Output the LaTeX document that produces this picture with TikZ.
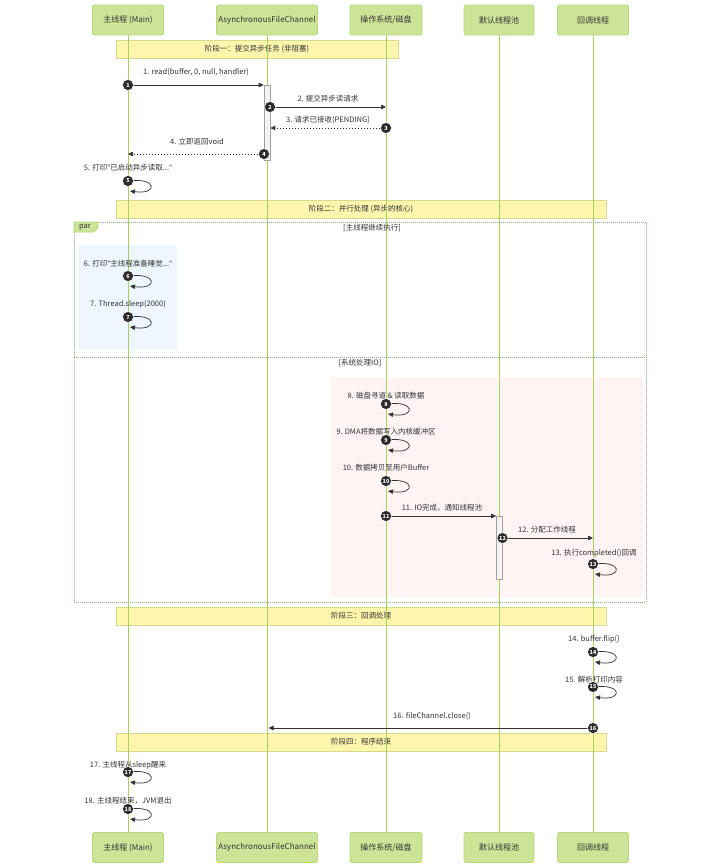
\documentclass[tikz,border=0pt]{standalone}
\usepackage{fontspec}
\setmainfont{Noto Sans CJK SC}
\newfontfamily\qfont{Noto Sans}
\newcommand\qq{{\qfont"}}
\usetikzlibrary{arrows.meta,calc}
\definecolor{actorfill}{HTML}{CDE498}
\definecolor{actorline}{HTML}{B9D877}
\definecolor{lifeclr}{HTML}{A5D25F}
\definecolor{notefill}{HTML}{FFF5AD}
\definecolor{noteline}{HTML}{D2DC8E}
\definecolor{txt}{HTML}{333333}
\definecolor{dotclr}{HTML}{2B2B2B}
\definecolor{parline}{HTML}{8EAA80}
\definecolor{bluebg}{HTML}{EEF6FF}
\definecolor{pinkbg}{HTML}{FFF4F4}
\definecolor{actfill}{HTML}{F4F4F4}
\definecolor{actline}{HTML}{A0A0A0}
\begin{document}
\begin{tikzpicture}[x=1pt,y=-1pt,
  actorbox/.style={draw=actorline,fill=actorfill,line width=0.8pt,rounded corners=2pt,
    minimum height=30pt,inner sep=0pt,text=txt,font=\fontsize{8}{10}\selectfont},
  lifeline/.style={draw=lifeclr,line width=1pt},
  phasenote/.style={draw=noteline,fill=notefill,line width=0.8pt,inner sep=0pt,
    minimum height=18pt,text=txt,font=\fontsize{7.5}{9}\selectfont},
  msglabel/.style={text=txt,inner sep=0pt,font=\fontsize{7.5}{9}\selectfont},
  msgline/.style={draw=txt,line width=0.7pt,-{Triangle[length=5pt,width=4.5pt]}},
  retline/.style={msgline,dash pattern=on 1.5pt off 1.5pt},
  numdot/.style={circle,fill=dotclr,draw=white,line width=0.5pt,minimum size=11pt,inner sep=0pt,
    text=white,font=\fontsize{5.5}{5.5}\selectfont\bfseries},
  actbar/.style={draw=actline,fill=actfill,line width=0.6pt,minimum width=6pt,inner sep=0pt},
  framelabel/.style={text=txt,inner sep=0pt,font=\fontsize{7.5}{9}\selectfont}]
\useasboundingbox[fill=white] (0,0) rectangle (720,868);

% background regions
\fill[bluebg] (79,245) rectangle (177,350);
\fill[pinkbg] (331,377) rectangle (642,597);

% phase notes
\node[phasenote,minimum width=282pt] (ph1) at (257,49) {阶段一：提交异步任务 (非阻塞)};
\node[phasenote,minimum width=490pt] (ph2) at (361,209) {阶段二：并行处理 (异步的核心)};
\node[phasenote,minimum width=490pt] (ph3) at (361,616) {阶段三：回调处理};
\node[phasenote,minimum width=490pt] (ph4) at (361,742) {阶段四：程序结束};

% participants
\node[actorbox,minimum width=71pt] (p1t) at (128,20) {主线程 (Main)};
\node[actorbox,minimum width=101pt] (p2t) at (267,20) {AsynchronousFileChannel};
\node[actorbox,minimum width=72pt] (p3t) at (386,20) {操作系统/磁盘};
\node[actorbox,minimum width=70pt] (p4t) at (499,20) {默认线程池};
\node[actorbox,minimum width=71pt] (p5t) at (593,20) {回调线程};
\node[actorbox,minimum width=71pt] (p1b) at (128,847.5) {主线程 (Main)};
\node[actorbox,minimum width=101pt] (p2b) at (267,847.5) {AsynchronousFileChannel};
\node[actorbox,minimum width=72pt] (p3b) at (386,847.5) {操作系统/磁盘};
\node[actorbox,minimum width=70pt] (p4b) at (499,847.5) {默认线程池};
\node[actorbox,minimum width=71pt] (p5b) at (593,847.5) {回调线程};

\draw[lifeline] (p1t.south) -- (p1b.north);
\draw[lifeline] (p2t.south) -- (p2b.north);
\draw[lifeline] (p3t.south) -- (p3b.north);
\draw[lifeline] (p4t.south) -- (p4b.north);
\draw[lifeline] (p5t.south) -- (p5b.north);

% par frame
\draw[parline,line width=0.8pt,dash pattern=on 1pt off 1pt] (74,222) rectangle (646,602);
\draw[parline,line width=0.8pt,dash pattern=on 1pt off 1pt] (74,357) -- (646,357);
\draw[actorline,fill=actorfill,line width=0.6pt] (74,222) -- (98,222) -- (98,228) -- (94,232) -- (74,232) -- cycle;
\node[framelabel] (parlbl) at (85,227) {par};
\node[framelabel] (alt1) at (372,228) {[主线程继续执行]};
\node[framelabel] (alt2) at (360,363) {[系统处理IO]};

% activation bars
\node[actbar,minimum height=75pt] (act1) at (267,122.5) {};
\node[actbar,minimum height=63pt] (act2) at (499.5,547.5) {};

% message labels
\node[msglabel] (l1) at (196,72) {1. read(buffer, 0, null, handler)};
\node[msglabel] (l2) at (328,99) {2. 提交异步读请求};
\node[msglabel] (l3) at (328,120) {3. 请求已接收(PENDING)};
\node[msglabel] (l4) at (197,142) {4. 立即返回void};
\node[msglabel] (l5) at (128,168) {5. 打印\qq 已启动异步读取...\qq};
\node[msglabel] (l6) at (128,264) {6. 打印\qq 主线程准备睡觉...\qq};
\node[msglabel] (l7) at (128,304) {7. Thread.sleep(2000)};
\node[msglabel] (l8) at (386,396) {8. 磁盘寻道 \& 读取数据};
\node[msglabel] (l9) at (386,432) {9. DMA将数据写入内核缓冲区};
\node[msglabel] (l10) at (386,468) {10. 数据拷贝至用户Buffer};
\node[msglabel] (l11) at (442,508) {11. IO完成，通知线程池};
\node[msglabel] (l12) at (547,530) {12. 分配工作线程};
\node[msglabel] (l13) at (594,553) {13. 执行completed()回调};
\node[msglabel] (l14) at (594,639) {14. buffer.flip()};
\node[msglabel] (l15) at (594,680) {15. 解析打印内容};
\node[msglabel] (l16) at (432,716) {16. fileChannel.close()};
\node[msglabel] (l17) at (128,765) {17. 主线程从sleep醒来};
\node[msglabel] (l18) at (128,801) {18. 主线程结束，JVM退出};

% message anchor coordinates
\coordinate (s1) at (128,85);
\coordinate (s2) at (270,107);
\coordinate (s3) at (386,128);
\coordinate (s4) at (264,154);
\coordinate (s5) at (128,181);
\coordinate (s6) at (128,276);
\coordinate (s7) at (128,317);
\coordinate (s8) at (386,404);
\coordinate (s9) at (386,440);
\coordinate (s10) at (386,481);
\coordinate (s11) at (386,516);
\coordinate (s12) at (502.5,538);
\coordinate (s13) at (593,564);
\coordinate (s14) at (593,652);
\coordinate (s15) at (593,687);
\coordinate (s16) at (593,728);
\coordinate (s17) at (128,772);
\coordinate (s18) at (128,809);

% messages between participants
\draw[msgline] (s1) -- (s1 -| act1.west);
\draw[msgline] (s2) -- (s2 -| p3t.center);
\draw[retline] (s3) -- (s3 -| act1.east);
\draw[retline] (s4) -- (s4 -| p1t.center);
\draw[msgline] (s11) -- (s11 -| act2.west);
\draw[msgline] (s12) -- (s12 -| p5t.center);
\draw[msgline] (s16) -- ($(s16 -| p2t.center)+(1.5,0)$);

% self messages
\foreach \s in {s5,s6,s7,s8,s9,s10,s13,s14,s15,s17,s18}{
  \draw[msgline] (\s) .. controls +(30,-4) and +(28,4) .. ++(2,10);
}

% number dots
\node[numdot] (c1) at (s1) {1};
\node[numdot] (c2) at (s2) {2};
\node[numdot] (c3) at (s3) {3};
\node[numdot] (c4) at (s4) {4};
\node[numdot] (c5) at (s5) {5};
\node[numdot] (c6) at (s6) {6};
\node[numdot] (c7) at (s7) {7};
\node[numdot] (c8) at (s8) {8};
\node[numdot] (c9) at (s9) {9};
\node[numdot] (c10) at (s10) {10};
\node[numdot] (c11) at (s11) {11};
\node[numdot] (c12) at (s12) {12};
\node[numdot] (c13) at (s13) {13};
\node[numdot] (c14) at (s14) {14};
\node[numdot] (c15) at (s15) {15};
\node[numdot] (c16) at (s16) {16};
\node[numdot] (c17) at (s17) {17};
\node[numdot] (c18) at (s18) {18};
\end{tikzpicture}
\end{document}
